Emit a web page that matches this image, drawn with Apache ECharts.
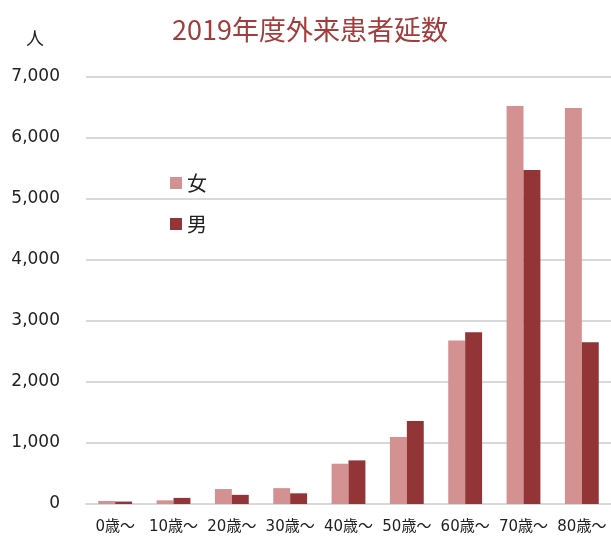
<!DOCTYPE html>
<html style="height: 100%">
<head>
    <meta charset="utf-8">
</head>
<body style="height: 100%; margin: 0">
<div id="container" style="height: 100%"></div>

<script type="text/javascript" src="https://cdn.jsdelivr.net/npm/echarts@6/dist/echarts.min.js"></script>

<script type="text/javascript">
    var ageGroups = ['0歳〜', '10歳〜', '20歳〜', '30歳〜', '40歳〜', '50歳〜', '60歳〜', '70歳〜', '80歳〜'];
    var female = [50, 60, 245, 260, 660, 1100, 2680, 6525, 6490];
    var male = [40, 100, 150, 175, 715, 1360, 2815, 5475, 2650];

    var dom = document.getElementById("container");
    var myChart = echarts.init(dom);
    var font = '"Noto Sans CJK JP", sans-serif';
    var numFont = '"DejaVu Sans", "Noto Sans CJK JP", sans-serif';

    var option = {
        textStyle: { fontFamily: font },
        title: [{
            text: '2019年度外来患者延数',
            left: 305,
            textAlign: 'center',
            top: 11,
            textStyle: { color: '#a33c3c', fontSize: 27, fontWeight: 'normal', fontFamily: font }
        }, {
            text: '人',
            left: 21,
            top: 24,
            textStyle: { color: '#222', fontSize: 18, fontWeight: 'normal', fontFamily: font }
        }],
        legend: {
            orient: 'vertical',
            left: 165,
            top: 168,
            itemWidth: 12,
            itemHeight: 12,
            itemGap: 21,
            icon: 'rect',
            textStyle: { fontSize: 20, color: '#222', fontFamily: font },
            data: ['女', '男']
        },
        grid: {
            left: 86,
            right: 0,
            top: 77,
            bottom: 32
        },
        xAxis: {
            type: 'category',
            data: ageGroups,
            axisTick: { show: false },
            axisLine: { lineStyle: { color: '#d9d9d9', width: 2 } },
            axisLabel: { color: '#222', fontSize: 15, margin: 16, interval: 0, fontFamily: numFont }
        },
        yAxis: {
            type: 'value',
            min: 0,
            max: 7000,
            interval: 1000,
            axisLabel: {
                color: '#222',
                fontSize: 17,
                margin: 26,
                fontFamily: numFont,
                formatter: function (v) { return v.toLocaleString('en-US'); }
            },
            splitLine: { lineStyle: { color: '#d9d9d9', width: 2 } }
        },
        series: [{
            name: '女',
            type: 'bar',
            data: female,
            barGap: '0%',
            barCategoryGap: '42%',
            itemStyle: { color: '#d39191' }
        }, {
            name: '男',
            type: 'bar',
            data: male,
            itemStyle: { color: '#933536' }
        }]
    };

    myChart.setOption(option);
</script>
</body>
</html>
